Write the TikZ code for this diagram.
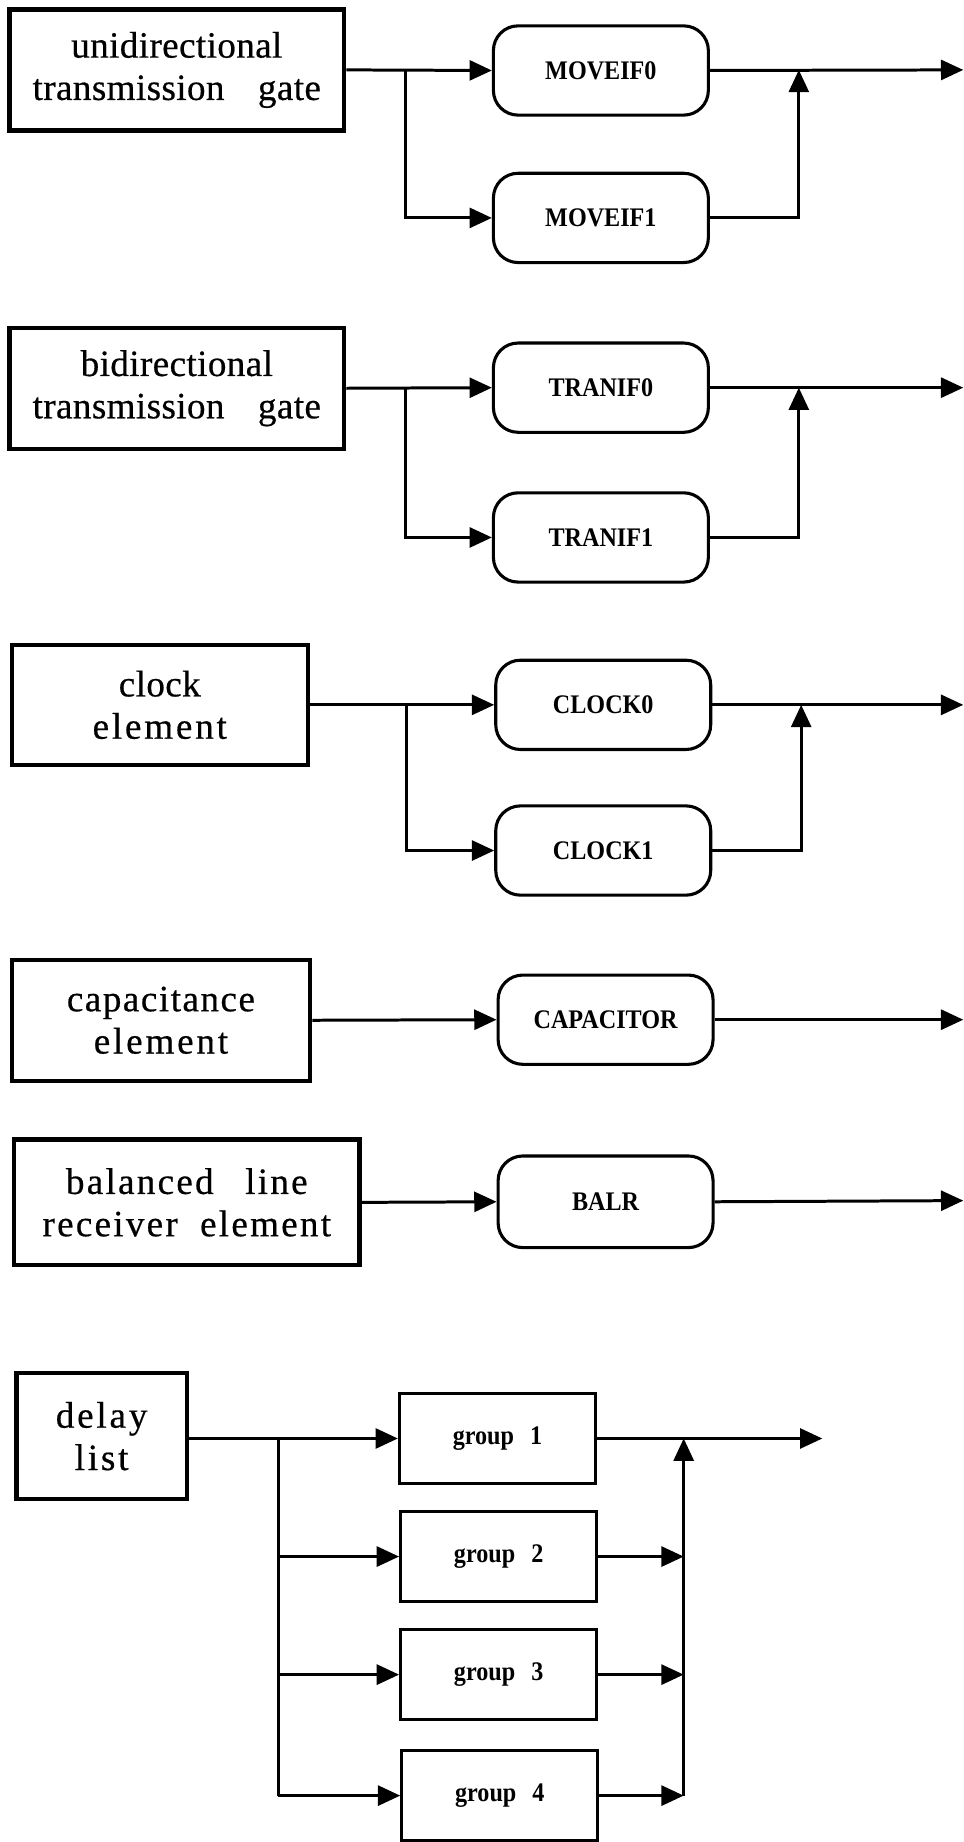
\documentclass[tikz,border=0pt]{standalone}
\usepackage{fontspec}
\setmainfont{Liberation Serif}[LetterSpace=1,FakeBold=0.5]
\newfontfamily\lsfour{Liberation Serif}[LetterSpace=4,FakeBold=0.5]
\newfontfamily\lssix{Liberation Serif}[LetterSpace=6,FakeBold=0.5]
\newfontfamily\lsseven{Liberation Serif}[LetterSpace=7.5,FakeBold=0.5]
\newfontfamily\labelfont{Liberation Serif Bold}[FakeStretch=0.9]
\usetikzlibrary{arrows.meta}
\tikzset{
  outerbox/.style={draw, line width=2.1pt, align=center, inner sep=0pt, font=\fontsize{18}{20.5}\selectfont},
  roundbox/.style={draw, rounded corners=0.42cm, line width=1.5pt, minimum width=3.66cm, minimum height=1.52cm, inner sep=0pt, font=\labelfont\fontsize{13}{15}\selectfont},
  groupbox/.style={draw, line width=1.5pt, minimum width=3.34cm, minimum height=1.54cm, inner sep=0pt, font=\labelfont\fontsize{13}{15}\selectfont},
  conn/.style={line width=1.45pt},
  arr/.style={conn, -{Triangle[length=0.38cm,width=0.34cm]}}
}
\begin{document}
\begin{tikzpicture}[x=0.02cm, y=-0.02cm]
\useasboundingbox (0,0) rectangle (820,1568);
% ---------- section 1
\node[outerbox, minimum width=5.7cm, minimum height=2.06cm] (A1) at (150.5,59.5) {unidirectional\\transmission\hspace{0.9em}gate};
\node[roundbox] (M0) at (511.5,60) {MOVEIF0};
\node[roundbox] (M1) at (511.5,185.5) {MOVEIF1};
\coordinate (b1) at (345,59.5);
\coordinate (m1) at (680,59.5);
\coordinate (o1) at (820,59.5);
\draw[arr] (A1.east) -- (M0.west);
\draw[arr] (b1) |- (M1.west);
\draw[arr] (M0.east) -- (o1);
\draw[arr] (M1.east) -| (m1);
% ---------- section 2
\node[outerbox, minimum width=5.7cm, minimum height=2.06cm] (A2) at (150.5,330.5) {bidirectional\\transmission\hspace{0.9em}gate};
\node[roundbox] (T0) at (511.5,330) {TRANIF0};
\node[roundbox] (T1) at (511.5,457.5) {TRANIF1};
\coordinate (b2) at (345,330);
\coordinate (m2) at (680,330);
\coordinate (o2) at (820,330);
\draw[arr] (A2.east) -- (T0.west);
\draw[arr] (b2) |- (T1.west);
\draw[arr] (T0.east) -- (o2);
\draw[arr] (T1.east) -| (m2);
% ---------- section 3
\node[outerbox, minimum width=5.04cm, minimum height=2.04cm] (A3) at (136,600) {clock\\\lsseven element};
\node[roundbox] (C0) at (513.5,600) {CLOCK0};
\node[roundbox] (C1) at (513.5,724) {CLOCK1};
\coordinate (b3) at (346,600);
\coordinate (m3) at (682,600);
\coordinate (o3) at (820,600);
\draw[arr] (A3.east) -- (C0.west);
\draw[arr] (b3) |- (C1.west);
\draw[arr] (C0.east) -- (o3);
\draw[arr] (C1.east) -| (m3);
% ---------- section 4
\node[outerbox, minimum width=5.08cm, minimum height=2.06cm] (A4) at (137,868.5) {\lsfour capacitance\\\lsseven element};
\node[roundbox] (CAP) at (515.5,868) {CAPACITOR};
\coordinate (o4) at (820,868);
\draw[arr] (A4.east) -- (CAP.west);
\draw[arr] (CAP.east) -- (o4);
% ---------- section 5
\node[outerbox, minimum width=5.88cm, minimum height=2.14cm] (A5) at (159,1023.5) {\lssix balanced\hspace{0.85em}line\\\lssix receiver\hspace{0.6em}element};
\node[roundbox, minimum height=1.56cm] (BALR) at (515.5,1023) {BALR};
\coordinate (o5) at (820,1022);
\draw[arr] (A5.east) -- (BALR.west);
\draw[arr] (BALR.east) -- (o5);
% ---------- section 6
\node[outerbox, minimum width=2.9cm, minimum height=2.14cm] (A6) at (86.5,1222.5) {\lsseven delay\\\lsseven list};
\node[groupbox] (G1) at (423.5,1224.5) {group\hspace{0.6em}1};
\node[groupbox] (G2) at (424.5,1325) {group\hspace{0.6em}2};
\node[groupbox] (G3) at (424.5,1425.5) {group\hspace{0.6em}3};
\node[groupbox] (G4) at (425.5,1528.5) {group\hspace{0.6em}4};
\coordinate (b6) at (237,1224.5);
\coordinate (m6) at (582,1224.5);
\coordinate (o6) at (700,1224.5);
\draw[arr] (A6.east |- G1.west) -- (G1.west);
\draw[conn] (b6) -- (b6 |- G4.west);
\draw[arr] (b6 |- G2.west) -- (G2.west);
\draw[arr] (b6 |- G3.west) -- (G3.west);
\draw[arr] (b6 |- G4.west) -- (G4.west);
\draw[arr] (G1.east) -- (o6);
\draw[arr] (m6 |- G4.east) -- (m6);
\draw[arr] (G2.east) -- (G2.east -| m6);
\draw[arr] (G3.east) -- (G3.east -| m6);
\draw[arr] (G4.east) -- (G4.east -| m6);
\end{tikzpicture}
\end{document}
